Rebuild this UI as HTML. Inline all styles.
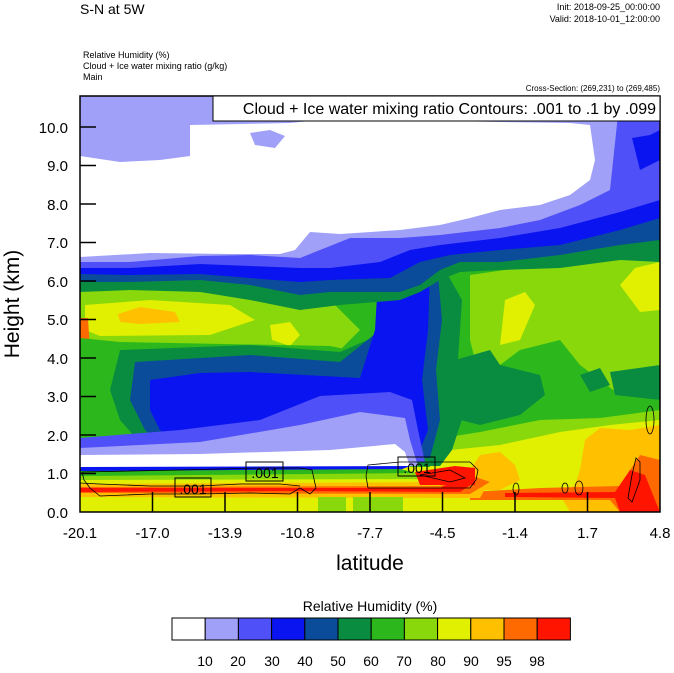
<!DOCTYPE html>
<html><head><meta charset="utf-8"><style>
body{margin:0;background:#fff;width:674px;height:668px;overflow:hidden;font-family:"Liberation Sans",sans-serif}
</style></head><body>
<svg width="674" height="668" viewBox="0 0 674 668" xmlns="http://www.w3.org/2000/svg" font-family="Liberation Sans, sans-serif">
<defs><clipPath id="c"><rect x="80" y="96" width="580" height="416"/></clipPath></defs>
<g clip-path="url(#c)">
<rect x="80" y="96" width="580" height="416" fill="#2cb81c"/>
<!-- right yellow-green -->
<path d="M470 275 L560 262 L620 250 L660 245 L660 400 L620 395 L580 365 L560 340 L520 350 L480 380 L470 340 Z" fill="#88d80c"/>
<path d="M505 300 L525 292 L535 305 L520 340 L500 345 Z" fill="#e0f000"/>
<path d="M620 285 L635 268 L660 262 L660 310 L640 312 Z" fill="#e0f000"/>
<path d="M455 360 L490 350 L500 365 L540 375 L545 395 L520 415 L480 425 L460 420 Z" fill="#0a8c40"/>
<path d="M580 375 L600 368 L610 385 L590 392 Z" fill="#0a8c40"/>
<path d="M610 372 L660 365 L660 400 L615 395 Z" fill="#0a8c40"/>
<!-- right bottom warm -->
<path d="M430 440 L480 432 L540 420 L600 418 L660 410 L660 512 L430 512 Z" fill="#88d80c"/>
<path d="M430 452 L500 445 L560 432 L610 425 L660 420 L660 512 L430 512 Z" fill="#e0f000"/>
<path d="M470 470 L480 455 L500 452 L515 465 L520 480 L500 490 L475 490 Z" fill="#ffc000"/>
<path d="M580 470 L585 440 L600 428 L630 430 L660 425 L660 512 L570 512 L560 495 L575 485 Z" fill="#ffc000"/>
<path d="M470 492 L540 488 L620 486 L630 470 L640 455 L660 460 L660 512 L620 512 L610 500 L470 500 Z" fill="#ff6a00"/>
<path d="M505 493 L615 492 L630 470 L645 475 L655 500 L660 512 L620 512 L615 498 L505 497 Z" fill="#ff1400"/>
<!-- left mid warm -->
<path d="M80 290 L200 288 L330 300 L360 330 L340 350 L250 345 L140 350 L110 400 L80 420 Z" fill="#88d80c"/>
<path d="M85 305 L150 300 L230 305 L255 320 L210 335 L100 336 L85 330 Z" fill="#e0f000"/>
<path d="M270 325 L290 322 L300 335 L290 346 L272 340 Z" fill="#e0f000"/>
<path d="M118 314 L140 307 L175 312 L180 322 L140 324 L120 322 Z" fill="#ffc000"/>
<path d="M80 318 L88 318 L90 350 L80 352 Z" fill="#ff6a00"/>
<path d="M80 338 L120 342 L330 346 L360 352 L430 360 L430 470 L80 470 Z" fill="#2cb81c"/>
<!-- dark green and column right edge -->
<path d="M120 350 L250 345 L340 352 L390 330 L400 280 L445 270 L462 300 L458 360 L465 410 L452 450 L440 466 L160 466 L120 420 L110 390 Z" fill="#0a8c40"/>
<path d="M135 362 L250 355 L340 362 L380 330 L385 280 L438 275 L442 320 L436 370 L440 420 L430 458 L180 460 L145 430 L130 400 Z" fill="#0a4c9a"/>
<path d="M150 380 L200 373 L250 372 L360 378 L375 330 L378 280 L430 270 L428 330 L422 380 L428 430 L418 455 L190 460 L160 430 L150 410 Z" fill="#0a14f0"/>
<path d="M380 262 L420 255 L418 290 L395 300 L385 292 Z" fill="#5050f8"/>
<path d="M80 438 L180 430 L260 420 L320 396 L390 392 L412 400 L418 430 L425 462 L80 470 Z" fill="#5050f8"/>
<path d="M80 448 L200 442 L300 425 L360 412 L405 418 L410 440 L418 466 L80 468 Z" fill="#a0a0f8"/>
<path d="M80 455 L200 454 L330 450 L395 444 L405 452 L410 467 L80 467 Z" fill="#fff"/>
<!-- upper bands -->
<path d="M80 96 L660 96 L660 262 L620 260 L560 268 L500 270 L460 272 L440 280 L420 292 L400 300 L340 305 L300 310 L250 300 L200 292 L130 290 L80 292 Z" fill="#0a8c40"/>
<path d="M80 96 L660 96 L660 240 L620 245 L560 255 L500 262 L460 262 L440 270 L420 285 L400 292 L330 292 L300 295 L250 285 L200 280 L130 282 L80 282 Z" fill="#0a4c9a"/>
<path d="M80 96 L660 96 L660 218 L620 230 L560 245 L500 250 L450 255 L420 262 L390 278 L330 280 L300 282 L250 278 L200 274 L130 275 L80 274 Z" fill="#0a14f0"/>
<path d="M80 96 L660 96 L660 200 L620 212 L560 228 L500 238 L440 245 L410 250 L380 262 L330 268 L300 268 L250 266 L200 264 L130 268 L80 268 Z" fill="#5050f8"/>
<path d="M80 96 L620 96 L610 190 L580 205 L540 220 L500 228 L440 235 L400 238 L350 238 L320 250 L300 258 L250 255 L200 256 L130 262 L80 262 Z" fill="#a0a0f8"/>
<path d="M190 125 L290 123 L320 120 L400 120 L500 122 L570 123 L590 125 L595 160 L590 180 L570 195 L540 205 L500 210 L470 218 L440 225 L400 230 L340 234 L310 232 L295 250 L280 254 L230 254 L150 253 L80 257 L80 156 L120 162 L160 160 L190 156 Z" fill="#fff"/>
<path d="M250 133 L270 130 L285 136 L275 148 L255 145 Z" fill="#a0a0f8"/>
<path d="M610 96 L660 96 L660 200 L640 200 L625 180 L620 120 Z" fill="#5050f8"/>
<path d="M632 138 L650 135 L660 130 L660 160 L640 170 Z" fill="#0a14f0"/>
<!-- bottom strip left -->
<rect x="80" y="467" width="360" height="45" fill="#e0f000"/>
<path d="M80 467 L410 466 L400 470 L80 472 Z" fill="#0a14f0"/>
<path d="M80 471 L400 469 L420 474 L80 477 Z" fill="#2cb81c"/>
<path d="M80 476 L420 473 L430 479 L80 480 Z" fill="#88d80c"/>
<path d="M80 484 L440 482 L455 470 L475 468 L490 480 L480 498 L80 497 Z" fill="#ffc000"/>
<path d="M80 487 L440 486 L470 475 L490 482 L470 494 L80 493 Z" fill="#ff6a00"/>
<path d="M80 488 L300 488 L440 488 L460 478 L475 482 L460 492 L300 491 L80 492 Z" fill="#ff1400"/>
<path d="M415 472 L455 466 L475 468 L475 485 L420 485 Z" fill="#ff1400"/>
<rect x="318" y="497" width="28" height="15" fill="#88d80c"/>
<rect x="353" y="497" width="50" height="15" fill="#88d80c"/>
<!-- contours -->
<g fill="none" stroke="#000" stroke-width="0.8">
<path d="M82 472 L180 470 L260 468 L300 468 L312 470 L316 488 L310 494 L300 488 L290 494 L250 493 L200 494 L150 494 L100 496 L90 488 L84 480 Z"/>
<path d="M80 483 L100 484 L150 486 L200 486 L240 484 L280 484 L300 486"/>
<path d="M368 465 L400 462 L470 462 L478 470 L476 480 L470 488 L420 488 L368 488 L366 476 Z"/>
<path d="M420 475 L450 470 L465 478 L450 482 Z"/>
<ellipse cx="516" cy="489" rx="3" ry="6"/><ellipse cx="565" cy="488" rx="3" ry="5"/><ellipse cx="579" cy="488" rx="4" ry="7"/>
<ellipse cx="650" cy="420" rx="4" ry="14"/><path d="M636 458 L640 462 L640 480 L632 502 L628 498 L632 475 Z"/>
</g>
</g>
<rect x="80" y="96" width="580" height="416" fill="none" stroke="#000" stroke-width="1.5"/>
<!-- label boxes -->
<g font-size="14" text-anchor="middle">
<rect x="175" y="478" width="36" height="19" fill="none" stroke="#000"/><text x="193" y="494">.001</text>
<rect x="246" y="462" width="37" height="19" fill="none" stroke="#000"/><text x="265" y="478">.001</text>
<rect x="398" y="457" width="37" height="19" fill="none" stroke="#000"/><text x="417" y="473">.001</text>
</g>
<!-- ticks -->
<g stroke="#000" stroke-width="1.5">
<path d="M80 127H96M80 165.5H96M80 204H96M80 242.5H96M80 281H96M80 319.5H96M80 358H96M80 396.5H96M80 435H96M80 473.5H96"/>
<path d="M152.5 512V492M225 512V492M297.5 512V492M370 512V492M442.5 512V492M515 512V492M587.5 512V492"/>
</g>
<g font-size="15" text-anchor="end">
<text x="68" y="133">10.0</text><text x="68" y="171">9.0</text><text x="68" y="210">8.0</text><text x="68" y="248">7.0</text><text x="68" y="287">6.0</text><text x="68" y="325">5.0</text><text x="68" y="364">4.0</text><text x="68" y="402">3.0</text><text x="68" y="441">2.0</text><text x="68" y="479">1.0</text><text x="68" y="518">0.0</text>
</g>
<g font-size="15" text-anchor="middle">
<text x="80" y="538">-20.1</text><text x="152.5" y="538">-17.0</text><text x="225" y="538">-13.9</text><text x="297.5" y="538">-10.8</text><text x="370" y="538">-7.7</text><text x="442.5" y="538">-4.5</text><text x="515" y="538">-1.4</text><text x="587.5" y="538">1.7</text><text x="660" y="538">4.8</text>
</g>
<text x="370" y="570" font-size="21" text-anchor="middle">latitude</text>
<text transform="translate(19,304) rotate(-90)" font-size="21" text-anchor="middle">Height (km)</text>
<!-- header -->
<text x="80" y="14" font-size="14">S-N at 5W</text>
<text x="660" y="10" font-size="9" text-anchor="end">Init: 2018-09-25_00:00:00</text>
<text x="660" y="22" font-size="9" text-anchor="end">Valid: 2018-10-01_12:00:00</text>
<text x="83" y="58" font-size="9">Relative Humidity   (%)</text>
<text x="83" y="69" font-size="9">Cloud + Ice water mixing ratio   (g/kg)</text>
<text x="83" y="80" font-size="9">Main</text>
<text x="660" y="91" font-size="8" text-anchor="end">Cross-Section: (269,231) to (269,485)</text>
<rect x="213" y="96" width="447" height="25" fill="#fff" stroke="#000"/>
<text x="656" y="114" font-size="16" text-anchor="end">Cloud + Ice water mixing ratio Contours: .001 to .1 by .099</text>
<!-- colorbar -->
<text x="370" y="611" font-size="14" text-anchor="middle">Relative Humidity  (%)</text>
<g stroke="#000" stroke-width="1">
<rect x="172" y="618" width="33.2" height="22" fill="#fff"/>
<rect x="205.2" y="618" width="33.2" height="22" fill="#a0a0f8"/>
<rect x="238.4" y="618" width="33.2" height="22" fill="#5050f8"/>
<rect x="271.6" y="618" width="33.2" height="22" fill="#0a14f0"/>
<rect x="304.8" y="618" width="33.2" height="22" fill="#0a4c9a"/>
<rect x="338" y="618" width="33.2" height="22" fill="#0a8c40"/>
<rect x="371.2" y="618" width="33.2" height="22" fill="#2cb81c"/>
<rect x="404.4" y="618" width="33.2" height="22" fill="#88d80c"/>
<rect x="437.6" y="618" width="33.2" height="22" fill="#e0f000"/>
<rect x="470.8" y="618" width="33.2" height="22" fill="#ffc000"/>
<rect x="504" y="618" width="33.2" height="22" fill="#ff6a00"/>
<rect x="537.2" y="618" width="33.2" height="22" fill="#ff1400"/>
</g>
<g font-size="14" text-anchor="middle">
<text x="205" y="666">10</text><text x="238" y="666">20</text><text x="272" y="666">30</text><text x="305" y="666">40</text><text x="338" y="666">50</text><text x="371" y="666">60</text><text x="404" y="666">70</text><text x="438" y="666">80</text><text x="471" y="666">90</text><text x="504" y="666">95</text><text x="537" y="666">98</text>
</g>
</svg>
</body></html>
